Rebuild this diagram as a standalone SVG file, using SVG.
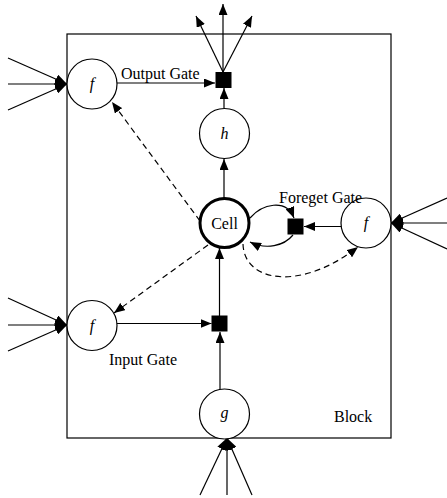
<svg xmlns="http://www.w3.org/2000/svg" width="447" height="498" viewBox="0 0 447 498">
  <style>
    .node { fill: #fff; stroke: #000; stroke-width: 1.2; }
    .cell { fill: #fff; stroke: #000; stroke-width: 3; }
    .mul { fill: #000; }
    .edge { fill: none; stroke: #000; stroke-width: 1.2; marker-end: url(#arrow); }
    .dash { stroke-dasharray: 6 4; }
    .in { fill: none; stroke: #000; stroke-width: 1.2; marker-end: url(#arrowBig); }
    .lbl { font-family: "Liberation Serif", "Times New Roman", serif; font-size: 16px; fill: #000; }
    .var { font-family: "Liberation Serif", "Times New Roman", serif; font-size: 16px; font-style: italic; fill: #000; text-anchor: middle; }
  </style>
  <defs>
    <marker id="arrow" viewBox="0 0 11 9" refX="11" refY="4.5" markerWidth="11" markerHeight="9" markerUnits="userSpaceOnUse" orient="auto">
      <path d="M0,0 L11,4.5 L0,9 z" fill="#000"/>
    </marker>
    <marker id="arrowBig" viewBox="0 0 12 10" refX="12" refY="5" markerWidth="12" markerHeight="10" markerUnits="userSpaceOnUse" orient="auto">
      <path d="M0,0 L12,5 L0,10 z" fill="#000"/>
    </marker>
  </defs>

  <!-- memory block outline -->
  <g id="block">
    <rect x="67" y="34" width="324" height="404" fill="none" stroke="#000" stroke-width="1.2"/>
    <text class="lbl" x="334" y="422">Block</text>
  </g>

  <!-- connectors -->
  <g id="connectors">
    <!-- inputs into output gate -->
    <line class="in" x1="8" y1="58" x2="67" y2="84"/>
    <line class="in" x1="8" y1="84" x2="67" y2="84"/>
    <line class="in" x1="8" y1="110" x2="67" y2="84"/>
    <!-- inputs into forget gate -->
    <line class="in" x1="447" y1="198" x2="391" y2="223"/>
    <line class="in" x1="447" y1="223" x2="391" y2="223"/>
    <line class="in" x1="447" y1="249" x2="391" y2="223"/>
    <!-- inputs into input gate -->
    <line class="in" x1="8" y1="298" x2="67" y2="325"/>
    <line class="in" x1="8" y1="325" x2="67" y2="325"/>
    <line class="in" x1="8" y1="351" x2="67" y2="325"/>
    <!-- inputs into g -->
    <line class="in" x1="200" y1="495" x2="227" y2="438"/>
    <line class="in" x1="227" y1="495" x2="227" y2="438"/>
    <line class="in" x1="252" y1="495" x2="227" y2="438"/>
    <!-- block outputs -->
    <line class="edge" x1="223" y1="72" x2="223" y2="4"/>
    <line class="edge" x1="223" y1="72" x2="196" y2="16"/>
    <line class="edge" x1="223" y1="72" x2="252" y2="16"/>

    <!-- output gate -> output multiplier -->
    <line class="edge" x1="117" y1="83" x2="215" y2="83"/>
    <!-- h -> output multiplier -->
    <line class="edge" x1="224" y1="108" x2="224" y2="88"/>
    <!-- cell -> h -->
    <line class="edge" x1="224" y1="198" x2="224" y2="159"/>
    <!-- forget gate -> forget multiplier -->
    <line class="edge" x1="341" y1="226.5" x2="304" y2="226.5"/>
    <!-- cell -> forget multiplier -> cell (recurrent loop) -->
    <path class="edge" d="M250,218 C262,204 286,198 294,218"/>
    <path class="edge" d="M293,235 C284,246 266,250 250,242"/>
    <!-- input gate -> input multiplier -->
    <line class="edge" x1="117" y1="323.5" x2="211.5" y2="323.5"/>
    <!-- input multiplier -> cell -->
    <line class="edge" x1="219.5" y1="316" x2="219.5" y2="248"/>
    <!-- g -> input multiplier -->
    <line class="edge" x1="220" y1="389" x2="220" y2="332"/>

    <!-- peephole connections -->
    <line class="edge dash" x1="200" y1="221" x2="112" y2="102"/>
    <line class="edge dash" x1="208" y1="245" x2="114" y2="313"/>
    <path class="edge dash" d="M243,244 C244,282 300,292 358,247"/>
  </g>

  <g id="output-gate">
    <circle class="node" cx="92" cy="84" r="25"/>
    <text class="var" x="92" y="89">f</text>
    <text class="lbl" x="121" y="79">Output Gate</text>
  </g>
  <g id="output-mul">
    <rect class="mul" x="215.5" y="72" width="16" height="16"/>
  </g>
  <g id="h">
    <circle class="node" cx="224.5" cy="133.5" r="25"/>
    <text class="var" x="224.5" y="138.5">h</text>
  </g>
  <g id="cell">
    <circle class="cell" cx="224.5" cy="223" r="24.5"/>
    <text class="lbl" x="224.5" y="228.5" text-anchor="middle">Cell</text>
  </g>
  <g id="forget-mul">
    <rect class="mul" x="287.5" y="218.5" width="16" height="16"/>
  </g>
  <g id="forget-gate">
    <circle class="node" cx="366" cy="223" r="25"/>
    <text class="var" x="366" y="228">f</text>
    <text class="lbl" x="279" y="203">Foreget Gate</text>
  </g>
  <g id="input-gate">
    <circle class="node" cx="92" cy="325.5" r="25"/>
    <text class="var" x="92" y="330.5">f</text>
    <text class="lbl" x="109" y="365">Input Gate</text>
  </g>
  <g id="input-mul">
    <rect class="mul" x="211.5" y="315.5" width="16" height="16"/>
  </g>
  <g id="g">
    <circle class="node" cx="224.5" cy="414" r="25"/>
    <text class="var" x="224.5" y="418">g</text>
  </g>
</svg>
